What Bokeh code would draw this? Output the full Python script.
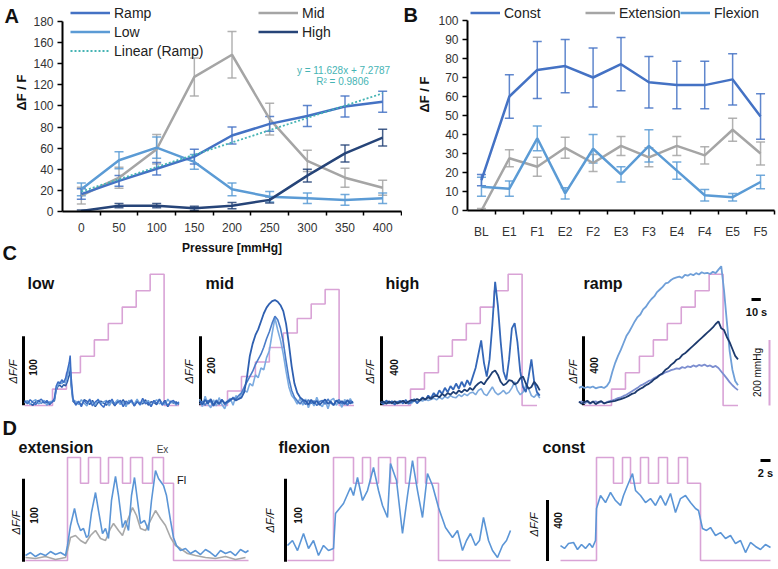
import math
from bokeh.plotting import figure
from bokeh.layouts import row, column
from bokeh.models import (Range1d, FixedTicker, Label, Legend, LegendItem,
                          ColumnDataSource, Whisker, TeeHead)
from bokeh.embed import file_html
from bokeh.resources import INLINE

FONT = "Liberation Sans"

# ---------------- Panel A data ----------------
PRESSURE = ["0", "50", "100", "150", "200", "250", "300", "350", "400"]
RAMP = [16.5, 29, 40.5, 52, 72, 83, 90.5, 99.5, 104]
RAMP_ERR = [5, 5, 6, 7, 8, 7, 10, 10, 10]
LOW = [21, 48.5, 60.5, 47, 21, 14, 12.5, 11, 12.5]
LOW_ERR = [6, 8, 10, 7, 6, 5, 5, 5, 5]
MID = [15, 32, 59, 127.5, 148.5, 87.5, 48, 32, 22.5]
MID_ERR = [8, 10, 14, 18, 22, 15, 10, 9, 7]
HIGH = [0.5, 5.5, 5.5, 3, 5.5, 11, 34, 55, 70]
HIGH_ERR = [1, 2, 2, 2, 3, 3, 6, 8, 8]
TREND_SLOPE = 11.628
TREND_INTERCEPT = 7.2787
A_YTICKS = [0, 20, 40, 60, 80, 100, 120, 140, 160, 180]

# ---------------- Panel B data ----------------
PHASES = ["BL", "E1", "F1", "E2", "F2", "E3", "F3", "E4", "F4", "E5", "F5"]
CONST = [16, 60, 74, 76, 70, 77, 67.5, 66, 66, 69, 49.5]
CONST_ERR = [3, 11.5, 15, 14, 15.5, 14, 13.5, 12.5, 12.5, 13.5, 12]
EXTENSION = [0, 27.5, 23, 33, 25, 34, 28, 34, 29, 42.5, 30]
EXTENSION_ERR = [1, 4.5, 5, 5.5, 4.5, 5, 5, 5, 4.5, 6, 6]
FLEXION = [12.5, 11.5, 38, 9, 32.5, 19, 34, 21, 8, 7, 15]
FLEXION_ERR = [5, 4, 6.5, 3, 7.5, 4, 8.5, 4.5, 3, 2, 3.5]
B_YTICKS = [0, 10, 20, 30, 40, 50, 60, 70, 80, 90, 100]

# ---------------- Panel C data (time s, dF/F, mmHg) ----------------
STEP_T = [-30, 0, 15, 30, 45, 60, 75, 90, 105, 120, 136]
STEP_P = [0, 50, 100, 150, 200, 250, 300, 350, 400, 0, 0]

LOW_T = [-30, -27, -24, -21, -18, -15, -12, -9, -6, -3, 0,
         2, 4, 6, 8, 10, 12, 14, 16, 18, 19, 20, 22,
         25, 28, 31, 34, 37, 40, 43, 46, 49, 52, 55, 58, 61, 64, 67, 70, 73, 76,
         79, 82, 85, 88, 91, 94, 97, 100, 103, 106, 109, 112, 115, 118, 121, 124,
         127, 130, 133, 136]
LOW_A = [3, -2, 4, 0, -3, 2, 5, -1, 3, -2, 1,
         6, 24, 30, 27, 33, 29, 35, 46, 58, 68, 38, 6,
         -4, 2, -6, 3, -2, 5, -5, 1, 4, -3, -7, 2, -1, 5, -4, 0, 3, -6, 2, -2,
         4, -5, 1, -3, 6, -2, 0, -6, 3, -1, 4, -4, 2, -5, 1, 3, -2, 0]
LOW_B = [-1, 3, -3, 2, 4, -2, 0, 3, -4, 1, 2,
         4, 20, 26, 30, 27, 31, 28, 38, 50, 55, 30, 3,
         2, -3, 4, -1, -5, 3, 0, -4, 5, -2, 1, 3, -5, 2, -1, 4, -3, 1, -6, 3,
         0, -2, 5, -4, 2, -1, 3, -5, 1, 4, -2, 0, -3, 5, -1, 2, -4, 1]
LOW_C = [0, 2, -2, -4, 1, 3, -1, 2, 0, -3, 2,
         2, 18, 24, 25, 22, 26, 24, 30, 40, 48, 25, 2,
         -2, 1, -4, 4, 2, -3, 3, -6, 0, 2, -1, -4, 3, 1, -5, 2, -2, 4, -3, 0,
         2, -5, 3, -1, -2, 4, -4, 1, 0, -3, 5, -2, 3, -6, 2, -1, 1, -3]

MID_T = [-30, -27, -24, -21, -18, -15, -12, -9, -6, -3, 0, 3, 6, 9, 12, 15,
         18, 21, 24, 27, 30, 33, 36, 39, 42, 45, 48, 51, 54, 57, 60, 63, 66, 69,
         72, 75, 78, 81, 84, 87, 90, 93, 96, 99, 102, 105, 108, 111, 114, 117,
         120, 123, 126, 129, 132, 135]
MID_DARK = [5, -6, 8, -3, 10, -8, 4, -5, 7, -2, 3, 8, 12, 6, 10, 14,
            30, 75, 135, 170, 195, 212, 235, 258, 275, 286, 294, 297, 292, 282,
            265, 228, 170, 105, 55, 28, 15, 8,
            4, -6, 8, -3, 5, -7, 2, 9, -4, 3, -8, 6, -2, 4, -5, 7, -3, 2]
MID_LIGHT = [10, -12, 18, -5, -15, 8, -10, 14, -6, -18, 5, 12, -8, 20, 10, 25,
             35, 30, 55, 48, 80, 72, 100, 95, 130, 150, 200, 245, 210, 180,
             140, 90, 45, 20, 10, -5, 12, -8,
             10, -15, 5, -10, 15, -5, -12, 8, -18, 6, 12, -8, 4, -14, 9, -6, 11, -3]
MID_MED = [-5, 4, -8, 6, 2, -10, 7, -3, 9, -6, 0, 5, 15, 10, 20, 28,
           45, 60, 75, 90, 110, 125, 140, 160, 185, 205, 230, 250, 240, 215,
           175, 120, 70, 35, 15, 5, -4, 6,
           -6, 8, -3, 5, -9, 3, 6, -5, 10, -2, -7, 4, 8, -4, 2, -8, 5, 0]

HIGH_T = [-32, -29, -26, -23, -20, -17, -14, -11, -8, -5, -2, 1, 4, 7, 10, 13,
          16, 19, 22, 25, 28, 31, 34, 37, 40, 43, 46, 49, 52, 55, 58, 61, 64, 67,
          70, 73, 76, 79, 82, 85, 88, 91, 94, 97, 100, 103, 106, 109, 112, 115,
          118, 121, 124, 127, 130, 133, 136, 139]
HIGH_MED = [5, -10, 12, -5, 8, -12, 3, 10, -6, 15, -8, 4, 20, -5, 12, 30, 15, 40, 25, 55,
            35, 70, 50, 85, 60, 95, 75, 110, 80, 120,
            90, 130, 100, 150, 200, 280, 360, 230, 150, 250,
            450, 700, 560, 350, 180, 130, 250, 430, 460, 350,
            180, 90, 60, 150, 250, 120, 60, 40]
HIGH_NAVY = [0, 5, -8, 6, -4, 8, -6, 3, 10, -5, 6, 15, 10, 20, 12, 25, 18, 30, 22, 35,
             40, 30, 50, 38, 55, 45, 62, 50, 70, 58,
             75, 65, 85, 72, 95, 110, 120, 105, 130, 150,
             175, 185, 160, 120, 100, 110, 130, 125, 105, 115,
             140, 150, 110, 80, 90, 120, 100, 70]
HIGH_LIGHT = [-5, 6, -3, 8, -7, 2, 5, -4, 9, -2, 4, -6, 10, 3, 15, 8, 20, 12, 18, 25,
              15, 30, 20, 35, 25, 40, 30, 28, 45, 35,
              50, 40, 55, 60, 45, 70, 80, 50, 40, 65,
              90, 60, 45, 55, 70, 50, 60, 85, 120, 70,
              45, 60, 100, 80, 40, 30, 50, 25]

RAMP_T = [-35, -32, -29, -26, -23, -20, -17, -14, -11, -8, -5, -2,
          1, 4, 7, 10, 13, 16, 19, 22, 25, 28, 31, 34, 37, 40, 43, 46, 49, 52,
          55, 58, 61, 64, 67, 70, 73, 76, 79, 82, 85, 88, 91, 94, 97, 100, 103,
          106, 109, 112, 115, 118, 121, 124, 127, 130, 133, 136]
RAMP_LIGHT = [85, 92, 84, 90, 86, 93, 82, 88, 91, 84, 95, 120,
              180, 230, 270, 305, 345, 385, 410, 440, 470, 495,
              510, 540, 555, 580, 600, 615, 640, 655, 670, 690,
              695, 710, 720, 725, 730, 722, 740, 735, 745, 738,
              750, 742, 755, 748, 752, 745, 758, 750, 770, 790,
              650, 470, 300, 190, 125, 100]
RAMP_NAVY = [5, -8, 3, 10, -4, 6, -10, 2, 8, -5, 0, 4,
             6, 10, 15, 20, 25, 32, 40, 50, 55, 70,
             80, 88, 100, 108, 120, 135, 145, 160, 170, 190,
             200, 218, 230, 248, 255, 275, 285, 300, 315, 330,
             345, 360, 375, 390, 405, 420, 435, 455, 470, 430,
             420, 380, 350, 310, 270, 250]
RAMP_PERI = [0, 6, -5, 4, -8, 3, 7, -3, 5, -6, 2, 8,
             12, 18, 25, 30, 38, 45, 55, 65, 75, 85,
             98, 105, 115, 125, 130, 142, 150, 160, 165, 175,
             180, 188, 192, 198, 195, 205, 200, 210, 205, 215,
             208, 218, 212, 220, 210, 215, 205, 212, 200, 180,
             160, 140, 118, 100, 85, 72]

# ---------------- Panel D data (time s, dF/F, relative pressure) ----------------
EXT_PT = [-8.4, 0, 2.6, 4.2, 6.6, 8.2, 11.0, 12.6, 15.0, 17.0, 19.2, 21.2, 36.2]
EXT_PL = [0, 1, 0.75, 1, 0.75, 1, 0.75, 1, 0.75, 1, 0.75, 0, 0]
EXT_T = [-8.4, -7.4, -6.4, -5.4, -4.4, -3.4, -2.4, -1.4, -0.4, 0, 0.6, 1.4, 2, 2.6,
         3.2, 3.8, 4.2, 4.8, 5.6, 6.2, 7, 7.6, 8.2, 8.8, 9.6, 10.2, 11, 11.6, 12.2,
         12.8, 13.4, 14, 14.6, 15.4, 16.2, 16.8, 17.6, 18.2, 19.2, 19.8, 20.6, 21.2,
         21.8, 22.6, 23.6, 24.6, 25.6, 26.6, 27.6, 28.6, 29.6, 30.6, 31.6, 32.6,
         33.6, 34.6, 35.6, 36.2]
EXT_BLUE = [3.6, 7.2, 2.4, 6, 3.6, 8.4, 4.8, 7.2, 3.6, 15.7, 39.8, 60.2, 43.4, 33.7,
            36.1, 25.3, 27.7, 55.4, 79.5, 57.8, 30.1, 36.1, 24.1, 69.9, 98.8, 75.9,
            37.3, 45.8, 33.7, 75.9, 97.6, 69.9, 42.2, 45.8, 33.7, 69.9, 106, 96.4,
            88, 75.9, 45.8, 25.3, 15.7, 9.6, 12, 6, 9.6, 4.8, 10.8, 7.2, 2.4, 9.6,
            6, 8.4, 3.6, 10.8, 7.2, 9.6]
EXT_GT = [-8.4, -6.4, -4.4, -2.4, -0.4, 0, 0.6, 1.6, 2.6, 3.6, 4.6, 5.6, 6.6, 7.6,
          8.6, 9.2, 10.2, 11, 12, 13, 13.8, 14.6, 15.6, 16.6, 17.6, 18.6, 19.6,
          20.6, 21.6, 22.6, 24, 25.6, 27.6, 29.6, 31.6, 33.6, 35.6]
EXT_GRAY = [1.2, 0, 2.4, -1.2, 1.2, 9.6, 25.3, 27.7, 21.7, 18.1, 27.7, 33.7, 24.1,
            21.7, 36.1, 42.2, 33.7, 27.7, 45.8, 61.4, 51.8, 36.1, 33.7, 45.8, 57.8,
            48.2, 39.8, 25.3, 15.7, 12, 6, 3.6, 1.2, 0, 2.4, -1.2, 1.2]

FLEX_PT = [-9.2, 0, 4, 5.8, 7.4, 9, 11.4, 12.8, 14.4, 16.8, 18.4, 21, 35.4]
FLEX_PL = [0, 1, 0.75, 1, 0.75, 1, 0.75, 1, 0.75, 1, 0.75, 0, 0]
FLEX_T = [-9.2, -8.2, -7.2, -6, -5, -4, -3, -2, -1, 0, 0.4, 2, 3.4, 4, 4.8, 5.8,
          6.8, 8, 9, 9.8, 10.8, 11.4, 12.6, 13.8, 14.8, 15.8, 16.8, 17.8, 18.8,
          19.8, 21, 22.4, 23.8, 24.8, 25.8, 26.6, 27.4, 28.4, 29.2, 30, 31, 31.8,
          32.8, 33.8, 34.6, 35.4]
FLEX_BLUE = [15.7, 21.7, 9.6, 30.1, 12, 21.7, 3.6, 15.7, 9.6, 12, 54.2, 66.3,
             85.5, 75.9, 97.6, 69.9, 81.9, 109.6, 81.9, 63.9, 49.4, 114.5, 94,
             30.1, 75.9, 118, 81.9, 49.4, 102.4, 88, 61.4, 37.3, 25.3, 33.7, 9.6,
             21.7, 30.1, 15.7, 21.7, 49.4, 21.7, 9.6, 1.2, 15.7, 21.7, 33.7]

CONST_PT = [-7.2, 0, 3.4, 5.2, 6.8, 8.8, 10.4, 12.4, 14.2, 16.4, 18.2, 20.8, 34.8]
CONST_PL = [0, 1, 0.75, 1, 0.75, 1, 0.75, 1, 0.75, 1, 0.75, 0, 0]
CONST_T = [-7.2, -6.4, -5.6, -4.6, -3.8, -3, -2.2, -1.4, -0.8, -0.2, 0, 0.8, 1.8,
           2.8, 3.8, 4.8, 5.4, 6.2, 7.2, 7.8, 8.8, 9.8, 10.8, 11.8, 12.8, 13.8,
           14.8, 15.8, 16.8, 17.8, 18.8, 19.8, 20.4, 21.2, 22, 22.8, 23.8, 24.8,
           25.8, 26.8, 27.8, 28.8, 29.8, 30.8, 31.8, 32.8, 33.8, 34.8]
CONST_BLUE = [85, 66, 98, 105, 59, 92, 66, 98, 72, 118, 328, 413, 367, 433, 380,
              348, 413, 479, 557, 446, 413, 367, 393, 348, 413, 348, 426, 302,
              393, 413, 367, 328, 315, 197, 184, 203, 151, 170, 131, 151, 98, 118,
              39, 105, 79, 59, 92, 72]

# ---------------- colours ----------------
C_RAMP = "#4472C4"
C_LOW = "#5B9BD5"
C_MID = "#A5A5A5"
C_HIGH = "#264478"
C_TREND = "#46B4B4"
C_PINK = "#D9A3D6"
INK = "#111111"


class Map:
    """Frame/box geometry of one panel (pixels) and its data scales."""
    def __init__(self, box, frame, x0, kx, y0, ky):
        self.box, self.frame = box, frame
        self.x0, self.kx, self.y0, self.ky = x0, kx, y0, ky

    def x(self, r):
        return (r - self.x0) / self.kx

    def y(self, r):
        return (self.y0 - r) / self.ky


def make_fig(m, axes=False):
    bl, bt, br, bb = m.box
    fl, ft, fr, fb = m.frame
    p = figure(width=br - bl, height=bb - bt,
               x_range=Range1d(m.x(fl), m.x(fr)),
               y_range=Range1d(m.y(fb), m.y(ft)),
               min_border_left=fl - bl, min_border_right=br - fr,
               min_border_top=ft - bt, min_border_bottom=bb - fb,
               toolbar_location=None, output_backend="svg",
               x_axis_location="below" if axes else None,
               y_axis_location="left" if axes else None,
               background_fill_color="white", border_fill_color="white",
               outline_line_color=None)
    try:
        p.frame_align = False
    except AttributeError:
        pass
    p.grid.visible = False
    return p


def txt(p, m, xr, yr, s, size, style="normal", align="left", baseline="middle",
        angle=0.0, color=INK):
    p.add_layout(Label(x=m.x(xr), y=m.y(yr), text=s, text_font=FONT,
                       text_font_size=f"{size}px", text_font_style=style,
                       text_align=align, text_baseline=baseline, angle=angle,
                       text_color=color))


def style_axes(p):
    for ax in (p.xaxis[0], p.yaxis[0]):
        ax.axis_line_color = "black"
        ax.axis_line_width = 2
        ax.major_label_text_font = FONT
        ax.major_label_text_font_size = "12px"
        ax.major_label_text_color = "#333333"
        ax.major_tick_line_color = "black"
        ax.major_tick_line_width = 1.5
        ax.minor_tick_line_color = "black"
        ax.minor_tick_line_width = 1.5
    p.yaxis.major_tick_out = 5
    p.yaxis.major_tick_in = 0
    p.yaxis.minor_tick_out = 0
    p.yaxis.minor_tick_in = 0
    p.yaxis.major_label_standoff = 4
    p.xaxis.major_tick_out = 0
    p.xaxis.major_tick_in = 0
    p.xaxis.minor_tick_out = 4
    p.xaxis.minor_tick_in = 0
    p.xaxis.major_label_standoff = 7


def series(p, xs, ys, err, color, width=2.5):
    r = p.line(xs, ys, line_color=color, line_width=width)
    src = ColumnDataSource(dict(x=xs, u=[a + b for a, b in zip(ys, err)],
                                l=[a - b for a, b in zip(ys, err)]))
    p.add_layout(Whisker(source=src, base="x", upper="u", lower="l",
                         line_color=color, line_width=1.5, line_alpha=0.85,
                         upper_head=TeeHead(size=9, line_color=color, line_width=1.5, line_alpha=0.85),
                         lower_head=TeeHead(size=9, line_color=color, line_width=1.5, line_alpha=0.85)))
    return r


def legend(p, items, loc, glyph_w):
    lg = Legend(items=[LegendItem(label=l, renderers=[r]) for l, r in items],
                location=loc, orientation="vertical",
                glyph_width=glyph_w, glyph_height=19, label_height=19,
                label_standoff=4, spacing=0, padding=0, margin=0,
                label_text_font=FONT, label_text_font_size="14px",
                label_text_color="#222222",
                background_fill_alpha=0, border_line_alpha=0)
    p.add_layout(lg)


def strip(box):
    """A plain text strip (no axes): its data units are pixels."""
    m = Map(box, box, 0, 1, 0, 1)
    return make_fig(m), m


ROW1 = (0, 262)

# ---- strip left of A: panel letters and y title ----
pSA, mSA = strip((0, ROW1[0], 30, ROW1[1]))
txt(pSA, mSA, 4, 15, "A", 20, style="bold")
txt(pSA, mSA, 21, 92, "ΔF / F", 13, style="bold", align="center", angle=math.pi / 2)
txt(pSA, mSA, 2, 252, "C", 20, style="bold")

# ================= Panel A =================
kxA = (401 - 62) / len(PRESSURE)
mA = Map((30, ROW1[0], 402, ROW1[1]), (62, 3, 401, 211), 62 + kxA / 2, kxA, 211, 190 / 180)
pA = make_fig(mA, axes=True)
style_axes(pA)
idxA = list(range(len(PRESSURE)))
pA.yaxis.ticker = FixedTicker(ticks=A_YTICKS)
pA.yaxis.bounds = (A_YTICKS[0], A_YTICKS[-1])
pA.xaxis.ticker = FixedTicker(ticks=idxA, minor_ticks=[i - 0.5 for i in range(len(PRESSURE) + 1)])
pA.xaxis.major_label_overrides = {i: s for i, s in enumerate(PRESSURE)}
pA.xaxis.axis_label = "Pressure [mmHg]"
pA.xaxis.axis_label_text_font = FONT
pA.xaxis.axis_label_text_font_size = "12px"
pA.xaxis.axis_label_text_font_style = "bold"
pA.xaxis.axis_label_text_color = INK
pA.xaxis.axis_label_standoff = 6

rMid = series(pA, idxA, MID, MID_ERR, C_MID)
rLow = series(pA, idxA, LOW, LOW_ERR, C_LOW)
rRamp = series(pA, idxA, RAMP, RAMP_ERR, C_RAMP)
rHigh = series(pA, idxA, HIGH, HIGH_ERR, C_HIGH)
trend = [TREND_SLOPE * (i + 1) + TREND_INTERCEPT for i in idxA]
rTrend = pA.line(idxA, trend, line_color=C_TREND, line_width=1.8, line_dash="2 2")

legend(pA, [("Ramp", rRamp), ("Low", rLow), ("Linear (Ramp)", rTrend)], (8, 151), 40)
legend(pA, [("Mid", rMid), ("High", rHigh)], (196, 170), 40)

txt(pA, mA, 343, 70, "y = 11.628x + 7.2787", 10, align="center", color=C_TREND)
txt(pA, mA, 342, 81, "R² = 0.9806", 10, align="center", color=C_TREND)

# ---- strip left of B ----
pSB, mSB = strip((402, ROW1[0], 435, ROW1[1]))
txt(pSB, mSB, 403, 14, "B", 20, style="bold")
txt(pSB, mSB, 424, 94, "ΔF / F", 13, style="bold", align="center", angle=math.pi / 2)

# ================= Panel B =================
kxB = (774 - 467) / len(PHASES)
mB = Map((435, ROW1[0], 776, ROW1[1]), (467, 3, 774, 210), 467 + kxB / 2, kxB, 210, 1.9)
pB = make_fig(mB, axes=True)
style_axes(pB)
idxB = list(range(len(PHASES)))
pB.yaxis.ticker = FixedTicker(ticks=B_YTICKS)
pB.yaxis.bounds = (B_YTICKS[0], B_YTICKS[-1])
pB.xaxis.ticker = FixedTicker(ticks=idxB, minor_ticks=[i - 0.5 for i in range(len(PHASES) + 1)])
pB.xaxis.major_label_overrides = {i: s for i, s in enumerate(PHASES)}
pB.xaxis.major_label_standoff = 10

rExt = series(pB, idxB, EXTENSION, EXTENSION_ERR, C_MID)
rFlex = series(pB, idxB, FLEXION, FLEXION_ERR, C_LOW)
rConst = series(pB, idxB, CONST, CONST_ERR, C_RAMP)
legend(pB, [("Const", rConst)], (3, 188), 30)
legend(pB, [("Extension", rExt)], (118, 188), 30)
legend(pB, [("Flexion", rFlex)], (213, 188), 30)


# ================= Panel C =================
def trace_panel(m, pzero, pk, title, title_xy, bar_x, bar_val, bar_lbl_xy, dff_xy):
    p = make_fig(m)
    fl, ft, fr, fb = m.frame
    p.extra_y_ranges = {"pr": Range1d((pzero - fb) / pk, (pzero - ft) / pk)}
    txt(p, m, title_xy[0], title_xy[1], title, 16, style="bold")
    bx = m.x(bar_x)
    p.line([bx, bx], [-0.04 * bar_val, 0.96 * bar_val], line_color="black", line_width=3)
    txt(p, m, bar_lbl_xy[0], bar_lbl_xy[1], str(bar_val), 10, style="bold",
        align="center", angle=math.pi / 2)
    txt(p, m, dff_xy[0], dff_xy[1], "ΔF/F", 11, style="italic", align="center",
        angle=math.pi / 2)
    return p


CY = (262, 415)
mLow = Map((0, CY[0], 182, CY[1]), (0, CY[0], 182, CY[1]), 52, 0.93, 402, 0.69)
pLow = trace_panel(mLow, 405, 0.328, "low", (27, 283), 23, 100, (32, 367), (12, 371))
pLow.step(STEP_T, STEP_P, mode="after", line_color=C_PINK, line_width=1.6, y_range_name="pr")
pLow.line(LOW_T, LOW_C, line_color="#2B5AA6", line_width=1.5)
pLow.line(LOW_T, LOW_B, line_color="#6FA3DC", line_width=1.5)
pLow.line(LOW_T, LOW_A, line_color="#3C6EC4", line_width=1.5)

mMid = Map((182, CY[0], 362, CY[1]), (182, CY[0], 362, CY[1]), 227, 0.93, 402, 0.345)
pMid = trace_panel(mMid, 405, 0.29, "mid", (205, 283), 200, 200, (210, 365), (188, 371))
pMid.step(STEP_T, STEP_P, mode="after", line_color=C_PINK, line_width=1.6, y_range_name="pr")
pMid.line(MID_T, MID_LIGHT, line_color="#7AAAE0", line_width=1.6)
pMid.line(MID_T, MID_MED, line_color="#4A7CC8", line_width=1.6)
pMid.line(MID_T, MID_DARK, line_color="#2E5FB0", line_width=1.8)

mHigh = Map((362, CY[0], 565, CY[1]), (362, CY[0], 565, CY[1]), 410, 0.93, 402, 0.1725)
pHigh = trace_panel(mHigh, 405, 0.328, "high", (385, 283), 381, 400, (393, 367), (369, 371))
pHigh.step(STEP_T, STEP_P, mode="after", line_color=C_PINK, line_width=1.6, y_range_name="pr")
pHigh.line(HIGH_T, HIGH_LIGHT, line_color="#7BA8DC", line_width=1.6)
pHigh.line(HIGH_T, HIGH_MED, line_color="#3467B8", line_width=1.8)
pHigh.line(HIGH_T, HIGH_NAVY, line_color="#1F3F74", line_width=1.8)

mRamp = Map((565, CY[0], 776, CY[1]), (565, CY[0], 776, CY[1]), 611, 0.93, 402, 0.1725)
pRamp = trace_panel(mRamp, 405, 0.328, "ramp", (583, 283), 583, 400, (593, 365), (572, 371))
pRamp.step(STEP_T, STEP_P, mode="after", line_color=C_PINK, line_width=1.6, y_range_name="pr")
pRamp.line(RAMP_T, RAMP_LIGHT, line_color="#6F9FD8", line_width=1.8)
pRamp.line(RAMP_T, RAMP_PERI, line_color="#7C8ED0", line_width=1.8)
pRamp.line(RAMP_T, RAMP_NAVY, line_color="#1D3A6D", line_width=1.8)
t0 = mRamp.x(751)
pRamp.line([t0, t0 + 10], [mRamp.y(299)] * 2, line_color="black", line_width=3)
txt(pRamp, mRamp, 756, 311, "10 s", 11, style="bold", align="center")
pb = mRamp.x(769)
pRamp.line([pb, pb], [0, 200], line_color=C_PINK, line_width=2, y_range_name="pr")
txt(pRamp, mRamp, 757, 372, "200 mmHg", 10, align="center", angle=math.pi / 2)

# ================= Panel D =================
DY = (415, 567)
mExt = Map((0, DY[0], 262, DY[1]), (0, DY[0], 262, DY[1]), 67, 5, 558, 0.83)
pExt = trace_panel(mExt, 560, 103, "extension", (18, 447), 23, 100, (33, 515), (15, 522))
pExt.step(EXT_PT, EXT_PL, mode="after", line_color=C_PINK, line_width=1.6, y_range_name="pr")
pExt.line(EXT_GT, EXT_GRAY, line_color="#A8A8A8", line_width=1.6)
pExt.line(EXT_T, EXT_BLUE, line_color="#5B95D6", line_width=1.6)
txt(pExt, mExt, 2, 427, "D", 20, style="bold")
txt(pExt, mExt, 162, 449, "Ex", 10, align="center", color="#444444")
txt(pExt, mExt, 181, 479, "Fl", 11, align="center")

mFlex = Map((262, DY[0], 525, DY[1]), (262, DY[0], 525, DY[1]), 333, 5, 558, 0.83)
pFlex = trace_panel(mFlex, 560, 103, "flexion", (278, 447), 285, 100, (297, 515), (269, 520))
pFlex.step(FLEX_PT, FLEX_PL, mode="after", line_color=C_PINK, line_width=1.6, y_range_name="pr")
pFlex.line(FLEX_T, FLEX_BLUE, line_color="#5B95D6", line_width=1.6)

mConst = Map((525, DY[0], 776, DY[1]), (525, DY[0], 776, DY[1]), 596, 5, 558, 0.1525)
pConst = trace_panel(mConst, 560, 103, "const", (542, 447), 547, 400, (557, 520), (533, 524))
pConst.step(CONST_PT, CONST_PL, mode="after", line_color=C_PINK, line_width=1.6, y_range_name="pr")
pConst.line(CONST_T, CONST_BLUE, line_color="#5B95D6", line_width=1.6)
t1 = mConst.x(760)
pConst.line([t1, t1 + 2], [mConst.y(460)] * 2, line_color="black", line_width=3)
txt(pConst, mConst, 765, 472, "2 s", 11, style="bold", align="center")

layout = column(row(pSA, pA, pSB, pB, spacing=0),
                row(pLow, pMid, pHigh, pRamp, spacing=0),
                row(pExt, pFlex, pConst, spacing=0), spacing=0)

open("out.html", "w").write(file_html(layout, INLINE))
